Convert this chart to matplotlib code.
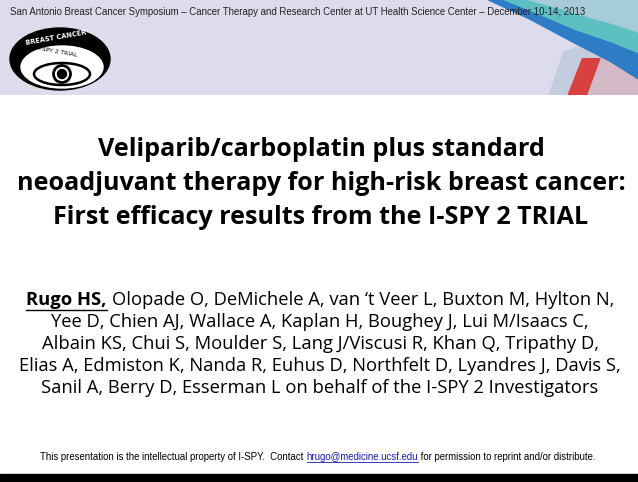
import matplotlib
matplotlib.use("Agg")
import matplotlib.pyplot as plt
from matplotlib.patches import Rectangle, Ellipse, Circle, Polygon

header_text = "San Antonio Breast Cancer Symposium \u2013 Cancer Therapy and Research Center at UT Health Science Center \u2013 December 10-14, 2013"
title_lines = ["Veliparib/carboplatin plus standard",
               "neoadjuvant therapy for high-risk breast cancer:",
               "First efficacy results from the I-SPY 2 TRIAL"]
lead_author = "Rugo HS,"
author_lines = ["Olopade O, DeMichele A, van \u2018t Veer L, Buxton M, Hylton N,",
                "Yee D, Chien AJ, Wallace A, Kaplan H, Boughey J, Lui M/Isaacs C,",
                "Albain KS, Chui S, Moulder S, Lang J/Viscusi R, Khan Q, Tripathy D,",
                "Elias A, Edmiston K, Nanda R, Euhus D, Northfelt D, Lyandres J, Davis S,",
                "Sanil A, Berry D, Esserman L on behalf of the I-SPY 2 Investigators"]
footer_a = "This presentation is the intellectual property of I-SPY.  Contact "
footer_link = "hrugo@medicine.ucsf.edu"
footer_b = " for permission to reprint and/or distribute."

fig = plt.figure(figsize=(6.38, 4.82), dpi=100)
ax = fig.add_axes([0, 0, 1, 1])
ax.set_xlim(0, 638); ax.set_ylim(482, 0); ax.axis("off")
fam = ["Open Sans", "DejaVu Sans"]
r = fig.canvas.get_renderer()

def width(t):
    return t.get_window_extent(renderer=r).width

# header band in its own axes (clips decoration)
hax = fig.add_axes([0, 1 - 95 / 482, 1, 95 / 482])
hax.set_xlim(0, 638); hax.set_ylim(95, 0); hax.axis("off")
hax.add_patch(Rectangle((0, 0), 638, 95, color="#dcdcec", zorder=0))
blue_outer = [(487, 0), (530, 20), (573, 43), (610, 62), (645, 84)]
blue_inner = [(503, 0), (540, 15), (575, 30), (610, 42), (645, 56)]
teal_inner = [(527, 0), (560, 9), (590, 18), (615, 25), (645, 35)]
deco = [
    ([(548, 96), (563, 52), (645, 20), (645, 96)], "#c4cde0"),
    ([(567, 96), (582, 58), (601, 58), (587, 96)], "#d94040"),
    ([(587, 96), (601, 58), (645, 58), (645, 96)], "#d3b8c6"),
    (blue_outer + [(645, -1), (487, -1)], "#2f7cc6"),
    (blue_inner + [(645, -1), (503, -1)], "#5cc0c2"),
    (teal_inner + [(645, -1), (527, -1)], "#a6ccda"),
]
for pts, col in deco:
    hax.add_patch(Polygon(pts, closed=True, color=col, zorder=1, lw=0))
hax.text(10, 12, header_text, fontsize=6.95, family="Liberation Sans", va="center", color="#222222", zorder=3)
hax.add_patch(Ellipse((60, 59), 100, 62, color="black", zorder=3))
hax.add_patch(Ellipse((62, 67), 82, 42, color="white", zorder=4))
hax.text(56, 38, "BREAST CANCER", fontsize=4.8, color="white", ha="center", va="center", weight="bold", rotation=10, zorder=5)
hax.text(58, 52, "I-SPY 2 TRIAL", fontsize=4.3, color="black", ha="center", va="center", rotation=-10, zorder=5)
hax.add_patch(Ellipse((62, 74), 56, 22, fill=False, lw=1.8, color="black", zorder=5))
hax.add_patch(Circle((62, 74), 8.5, fill=False, lw=2, color="black", zorder=5))
hax.add_patch(Circle((62, 74), 4.5, color="black", zorder=5))

# title
for i, s in enumerate(title_lines):
    ax.text(321, 150 + 34 * i, s, fontsize=18.1, weight="bold", family=fam, ha="center", va="center")

# authors
afs = 13.2
t1 = ax.text(0, 300, lead_author, fontsize=afs, weight="bold", family=fam, va="center")
t2 = ax.text(0, 300, author_lines[0], fontsize=afs, family=fam, va="center")
w1, w2, gap = width(t1), width(t2), 5
x0 = 320 - (w1 + gap + w2) / 2
t1.set_x(x0); t2.set_x(x0 + w1 + gap)
ax.plot([x0, x0 + w1], [309.5, 309.5], color="black", lw=1)
for i, s in enumerate(author_lines[1:]):
    ax.text(320, 322 + 22 * i, s, fontsize=afs, family=fam, ha="center", va="center")

# footer
fs = 6.9
fa = ax.text(0, 457, footer_a, fontsize=fs, family="Liberation Sans", va="center")
fl = ax.text(0, 457, footer_link, fontsize=fs, family="Liberation Sans", va="center", color="#1a1aaa")
fb = ax.text(0, 457, footer_b, fontsize=fs, family="Liberation Sans", va="center")
wa, wl, wb = width(fa), width(fl), width(fb)
x = 318 - (wa + wl + wb) / 2
fa.set_x(x); fl.set_x(x + wa); fb.set_x(x + wa + wl)
ax.plot([x + wa, x + wa + wl], [461.5, 461.5], color="#1a1aaa", lw=0.6)
ax.add_patch(Rectangle((0, 474), 638, 8, color="black"))

fig.savefig("out.png", dpi=100)
